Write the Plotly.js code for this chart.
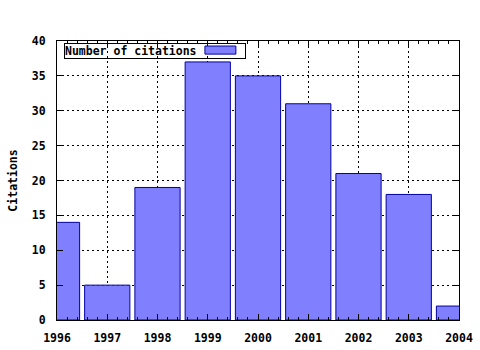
<!DOCTYPE html>
<html><head><meta charset="utf-8">
<script src="https://cdn.plot.ly/plotly-3.0.1.min.js"></script>
<style>html,body{margin:0;padding:0;background:#fff}#c{width:480px;height:350px}</style>
</head><body><div id="c"></div>
<script>
var years = [1996, 1997, 1998, 1999, 2000, 2001, 2002, 2003, 2004];
var citations = [14, 5, 19, 37, 35, 31, 21, 18, 2];
var seriesName = "Number of citations";
var yTicks = [0, 5, 10, 15, 20, 25, 30, 35, 40];

var bfont = {family: "DejaVu Sans Mono", size: 11.5, weight: "bold", color: "#000"};
var trace = {
  type: "bar", x: years, y: citations, name: seriesName, width: 0.9,
  marker: {color: "#8080ff", line: {color: "#0000a0", width: 1}},
  showlegend: false
};
var layout = {
  width: 480, height: 350,
  margin: {l: 57, r: 21, t: 41, b: 30},
  paper_bgcolor: "#fff", plot_bgcolor: "#fff",
  font: bfont,
  xaxis: {
    range: [1996, 2004], tickmode: "array", tickvals: years, ticktext: years.map(String),
    showgrid: true, gridcolor: "#000", gridwidth: 1, griddash: "2px,3px",
    showline: true, linecolor: "#000", linewidth: 1, mirror: "allticks",
    ticks: "inside", ticklen: 6, tickcolor: "#000", ticklabelstandoff: 7,
    minor: {dtick: 0.2, ticks: "inside", ticklen: 3, tickcolor: "#000", showgrid: false},
    zeroline: false, tickfont: bfont
  },
  yaxis: {
    range: [0, 40], tickmode: "array", tickvals: yTicks,
    showgrid: true, gridcolor: "#000", gridwidth: 1, griddash: "2px,3px",
    showline: true, linecolor: "#000", linewidth: 1, mirror: "allticks",
    ticks: "inside", ticklen: 6, tickcolor: "#000", ticklabelstandoff: 8,
    zeroline: false, tickfont: bfont,
    title: {text: "Citations", standoff: 11, font: bfont}
  },
  annotations: [{
    xref: "paper", yref: "paper", x: 0.017, y: 0.993, xanchor: "left", yanchor: "top",
    text: seriesName + "       ", showarrow: false, align: "left",
    bordercolor: "#000", borderwidth: 1, borderpad: 0,
    font: bfont
  }],
  shapes: [{
    type: "rect", xref: "paper", yref: "paper", layer: "above",
    x0: 0.368, x1: 0.445, y0: 0.953, y1: 0.982,
    fillcolor: "#8080ff", line: {color: "#0000a0", width: 1}
  }]
};
Plotly.newPlot("c", [trace], layout, {displayModeBar: false, staticPlot: true});
</script></body></html>
